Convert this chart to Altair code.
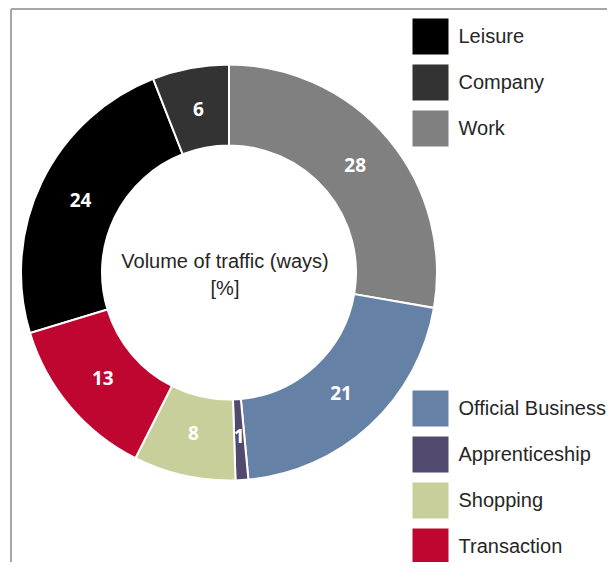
import altair as alt
import pandas as pd

categories = ["Work", "Official Business", "Apprenticeship", "Shopping", "Transaction", "Leisure", "Company"]
values = [28, 21, 1, 8, 13, 24, 6]
colors = ["#808080", "#6582A6", "#524A6E", "#C9CF9A", "#BE0630", "#000000", "#333333"]
top_group = ["Leisure", "Company", "Work"]
bottom_group = ["Official Business", "Apprenticeship", "Shopping", "Transaction"]
center_lines = ["Volume of traffic (ways)", "[%]"]

df = pd.DataFrame({"category": categories, "value": values, "order": list(range(len(categories)))})
total = sum(values)
color_map = dict(zip(categories, colors))
one = pd.DataFrame({"k": [0]})

W, H = 596, 553
CX, CY = 218, 263.5
R_OUT, R_IN, R_LAB = 208, 127, 165

base = alt.Chart(df).transform_window(
    end="sum(value)", sort=[alt.SortField("order")]
).transform_calculate(
    start="datum.end - datum.value", mid="datum.end - datum.value / 2"
)

theta_scale = alt.Scale(domain=[0, total])


def arcs(group, lx, ly):
    return base.transform_filter(
        alt.FieldOneOfPredicate(field="category", oneOf=group)
    ).mark_arc(
        outerRadius=R_OUT, innerRadius=R_IN, stroke="white", strokeWidth=2
    ).encode(
        theta=alt.Theta("start:Q", scale=theta_scale, stack=False),
        theta2="end:Q",
        color=alt.Color(
            "category:N",
            scale=alt.Scale(domain=group, range=[color_map[c] for c in group]),
            legend=alt.Legend(
                orient="none", legendX=lx, legendY=ly, title=None,
                symbolType="square", symbolSize=1296, symbolStrokeWidth=0,
                symbolOpacity=1, labelFontSize=20, labelFont="Liberation Sans",
                labelColor="#262626", rowPadding=10, labelOffset=10,
                padding=0, labelLimit=300,
            ),
        ),
        x=alt.value(CX),
        y=alt.value(CY),
    )


top_arcs = arcs(top_group, 401.5, 9.5)
bottom_arcs = arcs(bottom_group, 401.5, 381.5)

labels = base.mark_text(
    radius=R_LAB, font="Open Sans", fontWeight="bold", fontSize=19, color="white"
).encode(
    theta=alt.Theta("mid:Q", scale=theta_scale, stack=False),
    text="value:Q",
    x=alt.value(CX),
    y=alt.value(CY),
)

center = alt.Chart(one).mark_text(
    text=center_lines, fontSize=20, font="Liberation Sans", color="#262626",
    lineHeight=27, baseline="alphabetic", align="center",
).encode(x=alt.value(214), y=alt.value(259))

top_rule = alt.Chart(one).mark_rule(color="#a6a6a6", strokeWidth=2).encode(
    x=alt.value(0), x2=alt.value(W), y=alt.value(0)
)
left_rule = alt.Chart(one).mark_rule(color="#a6a6a6", strokeWidth=2).encode(
    x=alt.value(0), y=alt.value(0), y2=alt.value(H)
)

chart = alt.layer(
    top_rule, left_rule, top_arcs, bottom_arcs, labels, center
).resolve_scale(color="independent").properties(
    width=W, height=H,
    padding={"left": 3, "top": 1, "right": 0, "bottom": 0},
    autosize="none",
).configure_view(stroke=None)

chart.save("out.html", embed_options={"renderer": "svg", "actions": False})
